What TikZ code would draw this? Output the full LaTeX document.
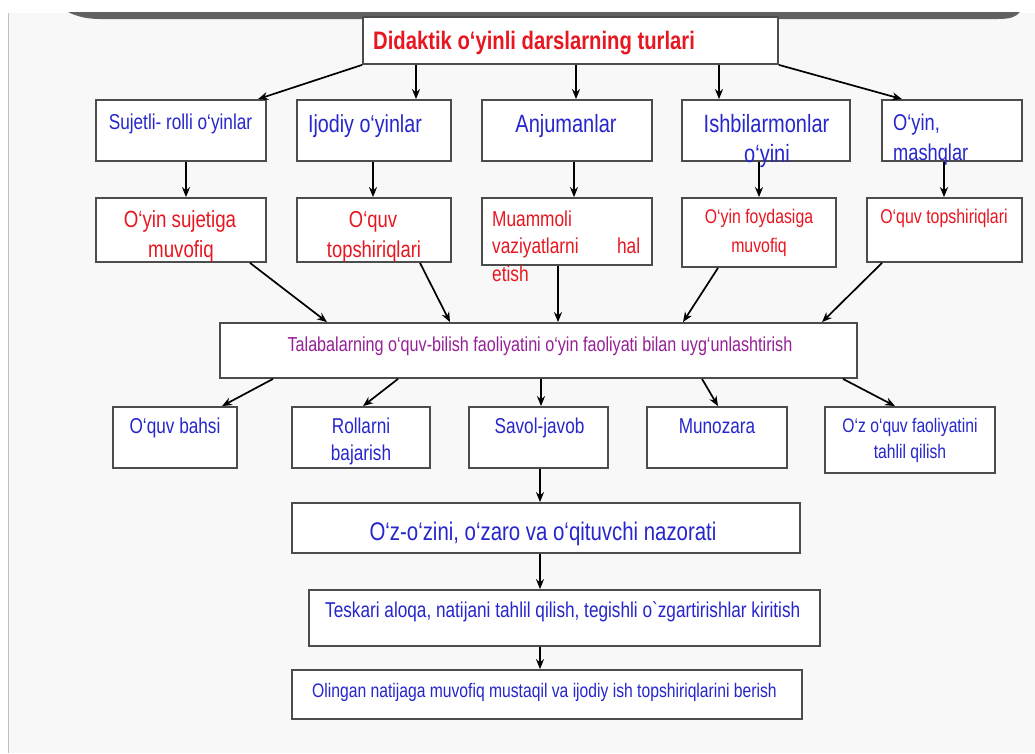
\documentclass[tikz,border=0pt]{standalone}
\usepackage{fontspec}
\newfontfamily\af[FakeStretch=0.8]{Liberation Sans}
\usetikzlibrary{arrows.meta}
\definecolor{tblue}{RGB}{38,38,205}
\definecolor{tred}{RGB}{232,22,32}
\definecolor{tmag}{RGB}{150,32,150}
\definecolor{bgc}{RGB}{248,248,248}
\newcommand\fs[1]{\fontsize{#1}{#1}\selectfont}
\begin{document}
\begin{tikzpicture}[x=1pt,y=-1pt,
  box/.style={draw=black!70, line width=1.8pt, fill=white, rectangle, inner sep=0pt},
  txt/.style={inner sep=0pt, anchor=base},
  arr/.style={-{Stealth[length=10pt,width=8pt]}, line width=1.7pt, black}]
\useasboundingbox (0,0) rectangle (1035,753);
\fill[white] (0,0) rectangle (1035,753);
\fill[bgc] (8,13) rectangle (1035,753);
\draw[black!25, line width=1pt] (8,13) -- (8,753);
\fill[black!62] (68,12) -- (1020,12) .. controls (1016,17) and (1010,19) .. (998,19) -- (100,19) .. controls (86,19) and (76,16) .. (68,12) -- cycle;

% boxes
\node[box, minimum width=415pt, minimum height=47pt] (title) at (570.5,40.5) {};
\node[box, minimum width=170pt, minimum height=61pt] (b1) at (181,130.5) {};
\node[box, minimum width=154pt, minimum height=61pt] (b2) at (374,130.5) {};
\node[box, minimum width=170pt, minimum height=61pt] (b3) at (567,130.5) {};
\node[box, minimum width=168pt, minimum height=61pt] (b4) at (766,130.5) {};
\node[box, minimum width=140pt, minimum height=61pt] (b5) at (952,130.5) {};
\node[box, minimum width=170pt, minimum height=64pt] (c1) at (181,230) {};
\node[box, minimum width=154pt, minimum height=64pt] (c2) at (374,230) {};
\node[box, minimum width=170pt, minimum height=67pt] (c3) at (567,231.5) {};
\node[box, minimum width=154pt, minimum height=69pt] (c4) at (759,232.5) {};
\node[box, minimum width=155pt, minimum height=64pt] (c5) at (944.5,230) {};
\node[box, minimum width=637pt, minimum height=55pt] (T) at (538.5,350.5) {};
\node[box, minimum width=124pt, minimum height=61pt] (d1) at (175,437.5) {};
\node[box, minimum width=138pt, minimum height=61pt] (d2) at (361,437.5) {};
\node[box, minimum width=139pt, minimum height=61pt] (d3) at (538.5,437.5) {};
\node[box, minimum width=140pt, minimum height=61pt] (d4) at (717,437.5) {};
\node[box, minimum width=170pt, minimum height=66pt] (d5) at (910,440) {};
\node[box, minimum width=508pt, minimum height=50pt] (O) at (546,528) {};
\node[box, minimum width=511pt, minimum height=56pt] (Te) at (564.5,618) {};
\node[box, minimum width=510pt, minimum height=49pt] (Ol) at (547,694.5) {};

% texts
\node[txt, anchor=base west, text=tred, font=\af\bfseries\fs{25.3}] (tt) at (373,49) {Didaktik o‘yinli darslarning turlari};

\node[txt, text=tblue, font=\af\fs{21.5}] (tb1) at (180.5,129) {Sujetli- rolli o‘yinlar};
\node[txt, text=tblue, font=\af\fs{24.6}] (tb2) at (365,132) {Ijodiy o‘yinlar};
\node[txt, text=tblue, font=\af\fs{25}] (tb3) at (566,132) {Anjumanlar};
\node[txt, text=tblue, font=\af\fs{25}] (tb4a) at (766.5,132) {Ishbilarmonlar};
\node[txt, text=tblue, font=\af\fs{25}] (tb4b) at (767,162) {o‘yini};
\node[txt, anchor=base west, text=tblue, font=\af\fs{22.8}] (tb5a) at (893,130) {O‘yin,};
\node[txt, anchor=base west, text=tblue, font=\af\fs{22.8}] (tb5b) at (893,160) {mashqlar};

\node[txt, text=tred, font=\af\fs{23.4}] (tc1a) at (180,227) {O‘yin sujetiga};
\node[txt, text=tred, font=\af\fs{23.4}] (tc1b) at (181,257) {muvofiq};
\node[txt, text=tred, font=\af\fs{23}] (tc2a) at (373,227) {O‘quv};
\node[txt, text=tred, font=\af\fs{23}] (tc2b) at (374,257) {topshiriqlari};
\node[txt, anchor=base west, text=tred, font=\af\fs{21.6}] (tc3a) at (492,226) {Muammoli};
\node[txt, anchor=base west, text=tred, font=\af\fs{21.6}] (tc3b) at (492,253.5) {\makebox[148pt][s]{vaziyatlarni\hfill hal}};
\node[txt, anchor=base west, text=tred, font=\af\fs{21.6}] (tc3c) at (492,281) {etish};
\node[txt, text=tred, font=\af\fs{19.8}] (tc4a) at (759,223) {O‘yin foydasiga};
\node[txt, text=tred, font=\af\fs{19.8}] (tc4b) at (759,252) {muvofiq};
\node[txt, text=tred, font=\af\fs{19.9}] (tc5) at (944,223) {O‘quv topshiriqlari};

\node[txt, text=tmag, font=\af\fs{20.2}] (tT) at (540,351) {Talabalarning o‘quv-bilish faoliyatini o‘yin faoliyati bilan uyg‘unlashtirish};

\node[txt, text=tblue, font=\af\fs{21.5}] (td1) at (175,433) {O‘quv bahsi};
\node[txt, text=tblue, font=\af\fs{21.5}] (td2a) at (361,433) {Rollarni};
\node[txt, text=tblue, font=\af\fs{21.5}] (td2b) at (361,460) {bajarish};
\node[txt, text=tblue, font=\af\fs{21.5}] (td3) at (539.5,433) {Savol-javob};
\node[txt, text=tblue, font=\af\fs{21.5}] (td4) at (717,433) {Munozara};
\node[txt, text=tblue, font=\af\fs{19.6}] (td5a) at (910,432) {O‘z o‘quv faoliyatini};
\node[txt, text=tblue, font=\af\fs{19.6}] (td5b) at (910,458) {tahlil qilish};

\node[txt, text=tblue, font=\af\fs{25.5}] (tO) at (543,540) {O‘z-o‘zini, o‘zaro va o‘qituvchi nazorati};
\node[txt, anchor=base west, text=tblue, font=\af\fs{21.5}] (tTe) at (325,617) {Teskari aloqa, natijani tahlil qilish, tegishli o`zgartirishlar kiritish};
\node[txt, anchor=base west, text=tblue, font=\af\fs{19.6}] (tOl) at (312,697) {Olingan natijaga muvofiq mustaqil va ijodiy ish topshiriqlarini berish};

% arrows title -> row1
\draw[arr] (title.south west) -- ([xshift=77pt]b1.north);
\draw[arr] ([xshift=-154.5pt]title.south) -- ([xshift=42pt]b2.north);
\draw[arr] ([xshift=5.5pt]title.south) -- ([xshift=9pt]b3.north);
\draw[arr] ([xshift=148.5pt]title.south) -- ([xshift=-47pt]b4.north);
\draw[arr] (title.south east) -- ([xshift=-50pt]b5.north);
% row1 -> row2
\draw[arr] ([xshift=5pt]b1.south) -- ([xshift=5pt]c1.north);
\draw[arr] ([xshift=-1pt]b2.south) -- ([xshift=-1pt]c2.north);
\draw[arr] ([xshift=7pt]b3.south) -- ([xshift=7pt]c3.north);
\draw[arr] ([xshift=-7pt]b4.south) -- (c4.north);
\draw[arr] ([xshift=-8pt]b5.south) -- ([xshift=-0.5pt]c5.north);
% row2 -> T
\draw[arr] ([xshift=69pt]c1.south) -- ([xshift=-211.5pt]T.north);
\draw[arr] ([xshift=46pt]c2.south) -- ([xshift=-88.5pt]T.north);
\draw[arr] ([xshift=-9pt]c3.south) -- ([xshift=19.5pt]T.north);
\draw[arr] ([xshift=-41pt]c4.south) -- ([xshift=144.5pt]T.north);
\draw[arr] ([xshift=-62.5pt]c5.south) -- ([xshift=283.5pt]T.north);
% T -> row3
\draw[arr] ([xshift=-265.5pt]T.south) -- ([xshift=47pt]d1.north);
\draw[arr] ([xshift=-140.5pt]T.south) -- ([xshift=2pt]d2.north);
\draw[arr] ([xshift=2.5pt]T.south) -- ([xshift=2.5pt]d3.north);
\draw[arr] ([xshift=163.5pt]T.south) -- ([xshift=1pt]d4.north);
\draw[arr] ([xshift=304.5pt]T.south) -- ([xshift=-15pt]d5.north);
% bottom chain
\draw[arr] ([xshift=1.5pt]d3.south) -- ([xshift=-6pt]O.north);
\draw[arr] ([xshift=-6pt]O.south) -- ([xshift=-24.5pt]Te.north);
\draw[arr] ([xshift=-24.5pt]Te.south) -- ([xshift=-7pt]Ol.north);
\end{tikzpicture}
\end{document}
